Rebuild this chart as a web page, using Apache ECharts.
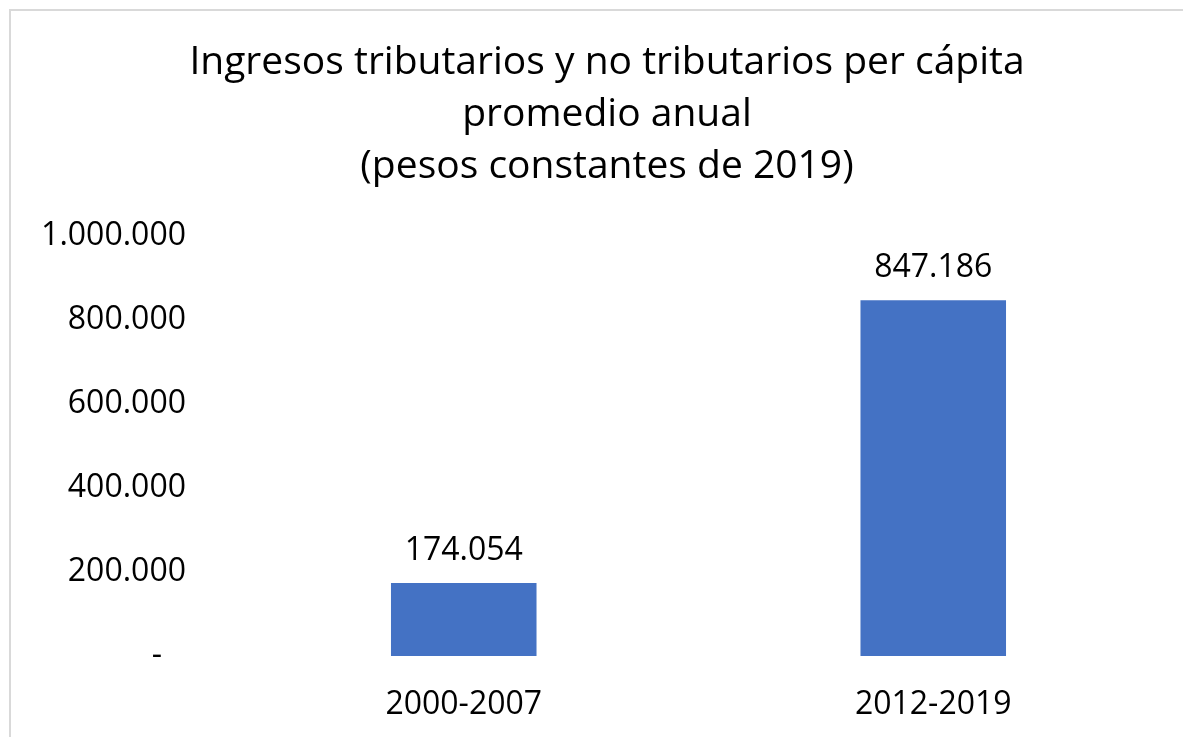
<!DOCTYPE html>
<html>
<head>
<meta charset="utf-8">
<script src="https://cdn.jsdelivr.net/npm/echarts@6/dist/echarts.min.js"></script>
<style>
  html, body { margin: 0; padding: 0; background: #fff; }
  #chart { width: 1183px; height: 737px; }
  #frame { position: absolute; left: 9px; top: 9px; width: 1200px; height: 760px; border: 2px solid #d9d9d9; box-sizing: border-box; pointer-events: none; }
</style>
</head>
<body>
<div id="chart"></div>
<div id="frame"></div>
<script>
const categories = ["2000-2007", "2012-2019"];
const ingresos = [174054, 847186];
const yTicks = [0, 200000, 400000, 600000, 800000, 1000000];

const fmt = v => v.toLocaleString("de-DE");

const chart = echarts.init(document.getElementById("chart"));
chart.setOption({
  animation: false,
  textStyle: { fontFamily: "Open Sans" },
  title: {
    text: "Ingresos tributarios y no tributarios per cápita\npromedio anual\n(pesos constantes de 2019)",
    left: 602,
    top: 32,
    textAlign: "center",
    textStyle: { fontSize: 39, fontWeight: "normal", color: "#000", lineHeight: 52 }
  },
  grid: { left: 229, right: 15, top: 236, bottom: 81, containLabel: false },
  xAxis: {
    type: "category",
    data: categories,
    axisLine: { show: false },
    axisTick: { show: false },
    axisLabel: { color: "#000", fontSize: 32, margin: 33 }
  },
  yAxis: {
    type: "value",
    min: yTicks[0],
    max: yTicks[yTicks.length - 1],
    interval: 200000,
    splitLine: { show: false },
    axisLine: { show: false },
    axisTick: { show: false },
    axisLabel: {
      color: "#000",
      fontSize: 32,
      margin: 43,
      formatter: v => v === 0 ? "{z|-}" : fmt(v),
      rich: { z: { fontSize: 32, color: "#000", padding: [0, 24, 0, 0] } }
    }
  },
  series: [{
    type: "bar",
    data: ingresos,
    barWidth: "31%",
    itemStyle: { color: "#4472C4" },
    label: {
      show: true,
      position: "top",
      distance: 16,
      color: "#000",
      fontSize: 32,
      formatter: p => fmt(p.value)
    }
  }]
});
</script>
</body>
</html>
